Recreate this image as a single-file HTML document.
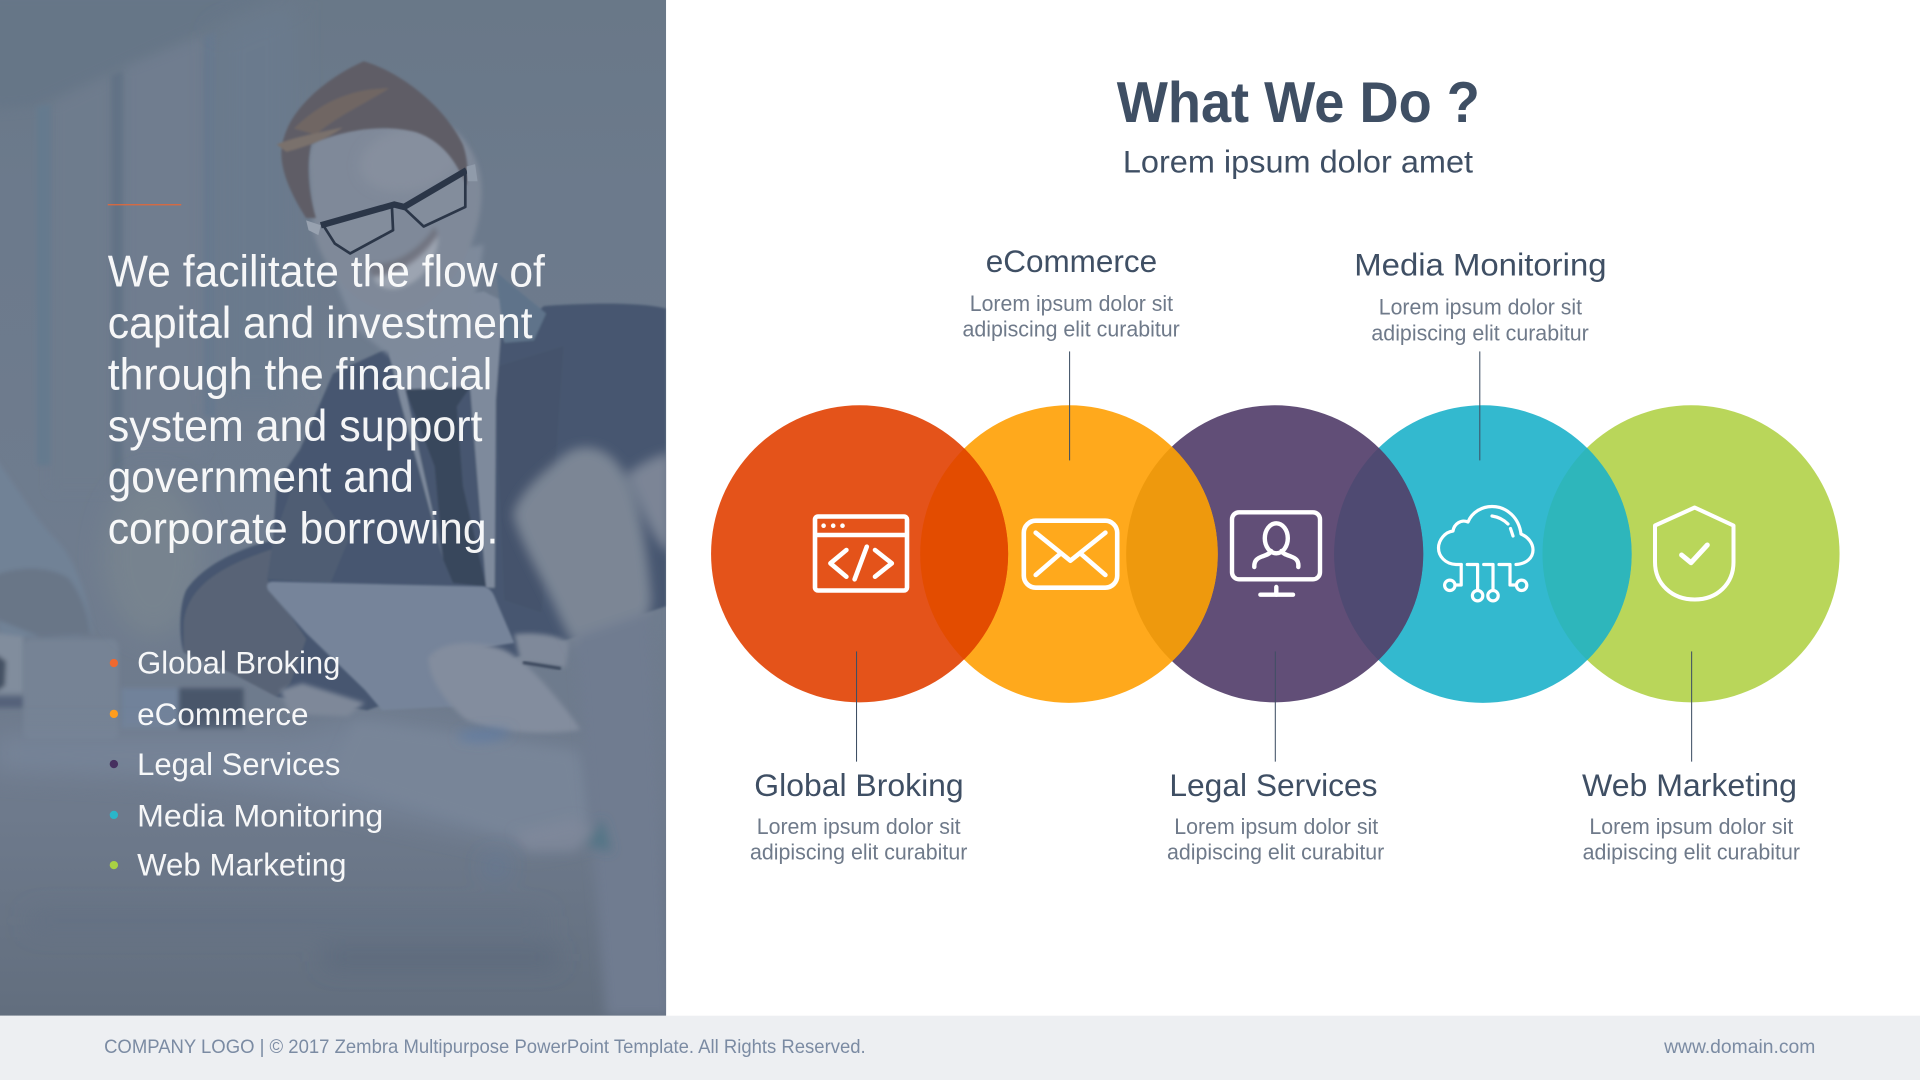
<!DOCTYPE html>
<html lang="en">
<head>
<meta charset="utf-8">
<title>What We Do ?</title>
<style>
html,body{margin:0;padding:0;background:#fff;width:1920px;height:1080px;overflow:hidden}
svg{display:block}
text{font-family:"Liberation Sans",Arial,sans-serif}
</style>
</head>
<body>
<svg xmlns="http://www.w3.org/2000/svg" width="1920" height="1080" viewBox="0 0 1568 882">
<defs>
<clipPath id="panel"><rect x="0" y="0" width="544" height="829.5"/></clipPath>
<clipPath id="c2"><circle cx="873" cy="452.5" r="121.5"/></clipPath>
<clipPath id="c3"><circle cx="1041" cy="452.3" r="121.3"/></clipPath>
<clipPath id="c4"><circle cx="1211" cy="452.5" r="121.5"/></clipPath>
<clipPath id="c5"><circle cx="1381" cy="452.3" r="121.3"/></clipPath>
<filter id="b1" x="-30%" y="-30%" width="160%" height="160%"><feGaussianBlur stdDeviation=".9"/></filter>
<filter id="b2" x="-30%" y="-30%" width="160%" height="160%"><feGaussianBlur stdDeviation="2"/></filter>
<filter id="b4" x="-30%" y="-30%" width="160%" height="160%"><feGaussianBlur stdDeviation="4.5"/></filter>
<filter id="b10" x="-40%" y="-40%" width="180%" height="180%"><feGaussianBlur stdDeviation="10"/></filter>
<linearGradient id="bg" x1="0" y1="0" x2="0" y2="1">
<stop offset="0" stop-color="#697888"/>
<stop offset=".2" stop-color="#6c7a8c"/>
<stop offset=".55" stop-color="#6f7c8e"/>
<stop offset=".8" stop-color="#6e7a8c"/>
<stop offset="1" stop-color="#626e7e"/>
</linearGradient>
</defs>

<!-- Photo panel -->
<g clip-path="url(#panel)">
<rect x="0" y="0" width="544" height="830" fill="url(#bg)"/>
<!-- room -->
<g filter="url(#b4)">
<path d="M-10 90 L27 87 L229 -5 L-10 -5 Z" fill="#667687"/>
<path d="M42 85 L90 62 L90 400 L42 400 Z" fill="#6e7b8d"/>
<path d="M102 55 L166 30 L166 370 L102 370 Z" fill="#707d8f"/>
</g>
<g filter="url(#b2)">
<path d="M30 87 L41 85 L41 380 L30 380 Z" fill="#657a8e"/>
<path d="M91 62 L100 58 L100 400 L91 400 Z" fill="#627285"/>
<path d="M167 30 L176 26 L176 340 L167 340 Z" fill="#66788e"/>
</g>
<g filter="url(#b10)">
<path d="M177 26 L240 0 L240 330 L177 330 Z" fill="#6b7a8d"/>
<ellipse cx="125" cy="455" rx="40" ry="65" fill="#77838f"/>
</g>

<!-- left man -->
<g filter="url(#b2)">
<path d="M-5 372 C15 400 30 425 45 440 C60 455 70 480 76 516 L63 520 L0 520 L-5 470 Z" fill="#718296"/>
<path d="M-5 470 C15 462 40 462 56 472 C66 485 72 500 74 518 L33 520 L-5 505 Z" fill="#697687"/>
<path d="M-5 517 L19 520 L19 566 L-5 566 Z" fill="#818d9d"/>
<path d="M-5 533 L5 540 L4 560 L-5 566 Z" fill="#445164"/>
<rect x="-5" y="569" width="24" height="9" fill="#55627a"/>
<rect x="99" y="562" width="47" height="33" fill="#71829a"/>
<rect x="146" y="562" width="53" height="33" fill="#4a576b"/>
</g>
<rect x="19" y="522" width="78" height="82" rx="6" fill="#7f8d9f" opacity=".45" filter="url(#b2)"/>

<!-- table -->
<g filter="url(#b10)">
<path d="M-5 600 L240 600 L300 585 L480 615 L485 680 L430 690 L250 650 L120 635 L-5 630 Z" fill="#768397"/>
</g>
<g filter="url(#b4)">
<path d="M290 590 L470 615 L480 670 L430 685 L270 635 Z" fill="#788598"/>
</g>

<!-- suit -->
<g filter="url(#b1)">
<path d="M544 252 C520 246 470 248 444 250 L412 280 L400 240 L320 283 L272 305 L245 367 L226 394 L223 441 C195 448 165 462 152 482 C146 495 146 520 150 533 L190 550 L226 569 L300 580 L470 520 L544 495 Z" fill="#47566f"/>
<path d="M150 510 C152 485 170 465 224 448 L218 473 L250 522 L237 558 L226 569 L190 550 L150 533 Z" fill="#596476"/>
<path d="M223 441 L245 380 L285 440 L270 476 L218 473 Z" fill="#4f5d73"/>
<path d="M460 283 L452 400 L442 500 L412 490 L404 300 Z" fill="#44536c"/>
<!-- shirt -->
<path d="M330 250 L395 238 L411 246 L405 327 L404 480 L397 480 L384 318 L331 318 L362 457 L326 324 L318 290 Z" fill="#7e8a9c"/>
<!-- tie -->
<path d="M331 318 L384 316 L373 332 L378 397 L397 479 L370 476 L362 457 L355 381 Z" fill="#39465c"/>
<!-- lapel -->
<path d="M405 222 L446 256 L436 278 L412 280 Z" fill="#5f738a"/>
</g>

<!-- neck & face -->
<g filter="url(#b2)">
<path d="M270 220 L290 268 L330 300 L384 270 L395 200 Z" fill="#7e8a9b"/>
<path d="M252 135 C250 95 300 85 340 92 C372 98 392 125 393 150 C396 190 372 240 338 254 C300 262 268 230 256 190 Z" fill="#7f8999"/>
<path d="M305 225 C325 222 345 208 358 190 C358 212 345 232 322 236 C312 236 306 232 305 225 Z" fill="#9ca4b1"/>
<path d="M300 215 C320 218 342 205 355 185 L358 192 C345 212 325 226 304 226 Z" fill="#686672" opacity=".6"/>
</g>
<g filter="url(#b4)">
<ellipse cx="335" cy="130" rx="42" ry="26" fill="#868f9e" transform="rotate(-12 335 130)"/>
</g>
<!-- hair -->
<g filter="url(#b1)">
<path d="M250 178 C232 150 226 128 232 112 C240 85 270 62 297 50 C325 58 362 85 378 118 C383 132 382 145 381 152 C372 130 360 115 340 108 C310 100 275 108 254 118 C250 135 252 158 258 178 Z" fill="#5f5d66"/>
<path d="M240 105 C260 85 285 72 318 72 C298 85 275 95 258 110 Z" fill="#6f6664"/>
<path d="M226 118 C240 112 262 108 280 104 C265 115 248 120 234 124 Z" fill="#7a716c"/>
</g>
<!-- glasses -->
<g fill="#8d97a6" fill-opacity=".3" stroke="#2b3648" stroke-linejoin="round" stroke-width="2.2">
<path d="M264 184 L320 167.5 L321 188 L286 207 L273.5 199 Z"/>
<path d="M329 169 L380 140 L380 169 L346 185 Z"/>
</g>
<path d="M262 184 L322 167 L330 169 L381 139" fill="none" stroke="#2b3648" stroke-width="5.2"/>
<path d="M250 180 L262 184 L260 192 L252 188 Z" fill="#98a2b0"/>
<path d="M381 136 L388 134 L390 148 L382 148 Z" fill="#909baa"/>

<!-- tablet -->
<path d="M222 475 L395 479 C400 480 403 484 405 490 L420 525 L354 536 L371 577 L312 580 L298 563.5 L250 517 L219 482 C217 478 218 476 222 475 Z" fill="#76849a" filter="url(#b1)"/>
<!-- hands -->
<g filter="url(#b2)">
<path d="M229 563.5 L247 558 L298 574 L284 585 L236 583 Z" fill="#7e8899"/>
<path d="M350 537 C360 524 385 522 410 530 C430 538 455 570 475 596 C450 600 410 600 381 588 C365 575 350 555 350 537 Z" fill="#838d9e"/>
<path d="M420 518 C435 516 455 518 465 525 L462 545 C450 543 435 542 425 540 Z" fill="#7f899a"/>
</g>
<path d="M427 541 L458 546" stroke="#3a475b" stroke-width="2.5" filter="url(#b1)"/>
<g filter="url(#b4)">
<path d="M419 420 C425 400 445 385 460 372 C475 360 495 365 506 381 C520 400 528 440 532 490 L525 530 L470 530 L457 504 C445 475 425 445 419 420 Z" fill="#7c8695"/>
<path d="M512 387 C525 378 535 372 548 370 L548 452 C535 445 525 420 512 387 Z" fill="#7b8596"/>
<path d="M470 520 L530 500 L548 830 L495 830 Z" fill="#6f7c90"/>
</g>
<!-- details -->
<g filter="url(#b4)">
<path d="M375 598 C390 595 425 592 415 600 C405 606 390 608 375 604 Z" fill="#5a7ba6" opacity=".6"/>
<path d="M420 680 L470 668 L485 678 L470 695 L430 695 Z" fill="#7f8a9b" opacity=".8"/>
<path d="M478 690 L492 668 L500 696 Z" fill="#3f6f80" opacity=".6"/>
</g>
<g filter="url(#b10)">
<rect x="25" y="745" width="420" height="14" fill="#5f6e82" opacity=".6"/>
<rect x="265" y="775" width="190" height="14" fill="#566478" opacity=".65"/>
<circle cx="405" cy="708" r="7" fill="#5a7aa6" opacity=".7"/>
</g>
</g>

<!-- Panel text -->
<rect x="88" y="166.7" width="60" height="1" fill="#e2683a"/>
<g fill="#ffffff" fill-opacity=".94" font-size="36">
<text x="88" y="234" textLength="357" lengthAdjust="spacingAndGlyphs">We facilitate the flow of</text>
<text x="88" y="276" textLength="347" lengthAdjust="spacingAndGlyphs">capital and investment</text>
<text x="88" y="318" textLength="314" lengthAdjust="spacingAndGlyphs">through the financial</text>
<text x="88" y="360" textLength="306" lengthAdjust="spacingAndGlyphs">system and support</text>
<text x="88" y="402" textLength="250" lengthAdjust="spacingAndGlyphs">government and</text>
<text x="88" y="444" textLength="319" lengthAdjust="spacingAndGlyphs">corporate borrowing.</text>
</g>
<circle cx="93" cy="541.5" r="3.4" fill="#f0692f"/>
<circle cx="93" cy="583" r="3.4" fill="#ff9d1c"/>
<circle cx="93" cy="624" r="3.4" fill="#46305f"/>
<circle cx="93" cy="665.5" r="3.4" fill="#2ab6c9"/>
<circle cx="93" cy="706.5" r="3.4" fill="#a9d244"/>
<g fill="#ffffff" fill-opacity=".94" font-size="26">
<text x="112" y="550" textLength="166" lengthAdjust="spacingAndGlyphs">Global Broking</text>
<text x="112" y="592" textLength="140" lengthAdjust="spacingAndGlyphs">eCommerce</text>
<text x="112" y="633" textLength="166" lengthAdjust="spacingAndGlyphs">Legal Services</text>
<text x="112" y="675" textLength="201" lengthAdjust="spacingAndGlyphs">Media Monitoring</text>
<text x="112" y="715" textLength="171" lengthAdjust="spacingAndGlyphs">Web Marketing</text>
</g>

<!-- Footer -->
<rect x="0" y="829.5" width="1568" height="52.5" fill="#edeff2"/>
<text x="85" y="860" font-size="15.5" fill="#7b8ba3" textLength="622" lengthAdjust="spacingAndGlyphs">COMPANY LOGO | © 2017 Zembra Multipurpose PowerPoint Template. All Rights Reserved.</text>
<text x="1359" y="860" font-size="15.5" fill="#7b8ba3" textLength="123.5" lengthAdjust="spacingAndGlyphs">www.domain.com</text>

<!-- Titles -->
<text x="912" y="99.5" font-size="47" font-weight="700" fill="#3f4f64" textLength="296.5" lengthAdjust="spacingAndGlyphs">What We Do ?</text>
<text x="917" y="141" font-size="26" fill="#3f4f64" textLength="286" lengthAdjust="spacingAndGlyphs">Lorem ipsum dolor amet</text>

<!-- Circles -->
<circle cx="1381" cy="452.3" r="121.3" fill="#b9d65a"/>
<circle cx="1211" cy="452.5" r="121.5" fill="#33b9cf"/>
<circle cx="1041" cy="452.3" r="121.3" fill="#614e77"/>
<circle cx="873" cy="452.5" r="121.5" fill="#ffa91c"/>
<circle cx="702" cy="452.3" r="121.3" fill="#e4531a"/>
<circle cx="702" cy="452.3" r="121.3" fill="#e34c00" clip-path="url(#c2)"/>
<circle cx="873" cy="452.5" r="121.5" fill="#ee990d" clip-path="url(#c3)"/>
<circle cx="1041" cy="452.3" r="121.3" fill="#4f4a72" clip-path="url(#c4)"/>
<circle cx="1211" cy="452.5" r="121.5" fill="#2eb6bb" clip-path="url(#c5)"/>

<!-- Connector lines -->
<g stroke="#3f4f64" stroke-width=".85" fill="none">
<line x1="873.5" y1="287" x2="873.5" y2="376"/>
<line x1="1208.5" y1="287" x2="1208.5" y2="376"/>
<line x1="699.5" y1="532" x2="699.5" y2="622"/>
<line x1="1041.5" y1="532" x2="1041.5" y2="622"/>
<line x1="1381.5" y1="532" x2="1381.5" y2="622"/>
</g>

<!-- Labels -->
<g fill="#3f4f64" font-size="26">
<text x="805" y="222" textLength="140" lengthAdjust="spacingAndGlyphs">eCommerce</text>
<text x="1106" y="225" textLength="206" lengthAdjust="spacingAndGlyphs">Media Monitoring</text>
<text x="616" y="650" textLength="171" lengthAdjust="spacingAndGlyphs">Global Broking</text>
<text x="955" y="650" textLength="170" lengthAdjust="spacingAndGlyphs">Legal Services</text>
<text x="1292" y="650" textLength="175.5" lengthAdjust="spacingAndGlyphs">Web Marketing</text>
</g>
<g fill="#6f7a8a" font-size="18">
<text x="792" y="254" textLength="166" lengthAdjust="spacingAndGlyphs">Lorem ipsum dolor sit</text>
<text x="786" y="275" textLength="177.5" lengthAdjust="spacingAndGlyphs">adipiscing elit curabitur</text>
<text x="1126" y="257" textLength="166" lengthAdjust="spacingAndGlyphs">Lorem ipsum dolor sit</text>
<text x="1120" y="278" textLength="177.5" lengthAdjust="spacingAndGlyphs">adipiscing elit curabitur</text>
<text x="618" y="681" textLength="166.5" lengthAdjust="spacingAndGlyphs">Lorem ipsum dolor sit</text>
<text x="612.5" y="702" textLength="177.5" lengthAdjust="spacingAndGlyphs">adipiscing elit curabitur</text>
<text x="959" y="681" textLength="166.5" lengthAdjust="spacingAndGlyphs">Lorem ipsum dolor sit</text>
<text x="953" y="702" textLength="177.5" lengthAdjust="spacingAndGlyphs">adipiscing elit curabitur</text>
<text x="1298" y="681" textLength="166.5" lengthAdjust="spacingAndGlyphs">Lorem ipsum dolor sit</text>
<text x="1292.5" y="702" textLength="177.5" lengthAdjust="spacingAndGlyphs">adipiscing elit curabitur</text>
</g>

<!-- Icons (drawn in 1920-space coordinates) -->
<g transform="scale(.81667)" fill="none" stroke="#ffffff" stroke-linecap="round" stroke-linejoin="round">
<g stroke-width="4.6">
<rect x="815" y="516.5" width="92" height="74" rx="3"/>
<path d="M815 535 H907" stroke-linecap="butt"/>
<path d="M846.4 550 L830.4 563.3 L846.4 576.7"/>
<path d="M866.8 546.7 L854.6 579.3"/>
<path d="M875 550 L891.8 563.3 L875 576.7"/>
</g>
<g fill="#ffffff" stroke="none">
<circle cx="823.6" cy="525.7" r="2.3"/>
<circle cx="833.2" cy="525.7" r="2.3"/>
<circle cx="842.5" cy="525.7" r="2.3"/>
</g>
<g stroke-width="4.6">
<rect x="1023.8" y="520.7" width="93.4" height="67" rx="12"/>
<path d="M1035.7 532.7 L1070.4 560.7 L1105.4 532.7"/>
<path d="M1035.7 575 L1059.6 554.3"/>
<path d="M1105.4 575 L1081.4 554.3"/>
</g>
<g stroke-width="4.4">
<rect x="1232" y="512.3" width="88" height="67" rx="7"/>
<path d="M1276.3 587 V594.7"/>
<path d="M1260.4 594.7 H1293"/>
<ellipse cx="1276.3" cy="538.3" rx="11.5" ry="15"/>
<path d="M1254.3 567 C1254 560 1258 558 1262 556.5 C1266 555 1270 554 1271 551 M1298.3 567 C1299 560 1295 558 1291 556.5 C1287 555 1283 554 1281.5 551"/>
</g>
<g stroke-width="3.2">
<path d="M1461.2 564.5 H1456 C1445 564 1438.5 556 1438.5 548 C1438.5 540 1445 532 1453 531 C1454 524 1461 519 1468 522 C1472 512 1482 506.5 1492 506.5 C1507 506.5 1519 518 1521 534 C1528 537 1533 543 1533 550 C1533 558 1526 564 1516 564.5"/>
<path d="M1492 516 C1499 517 1504 520 1508 524"/>
<path d="M1510.5 528.5 L1513 536"/>
<path d="M1461.2 564.5 V585 H1455"/>
<path d="M1467.3 564.5 H1477.6 V590"/>
<path d="M1483.7 564.5 H1493 V590"/>
<path d="M1499 564.5 H1510 V585 H1516"/>
<circle cx="1449.8" cy="585.3" r="5.2"/>
<circle cx="1477.6" cy="595.7" r="5.2"/>
<circle cx="1493" cy="595.7" r="5.2"/>
<circle cx="1521.6" cy="585.3" r="5.2"/>
</g>
<path d="M1694.7 507.5 L1655 525.5 V562 C1655 584 1672 599.5 1694.7 599.5 C1717 599.5 1733.5 584 1733.5 562 V525.5 Z" stroke-width="4"/>
<path d="M1681.6 555 L1691 562.7 L1707.3 545" stroke-width="5"/>
</g>
</svg>
</body>
</html>
